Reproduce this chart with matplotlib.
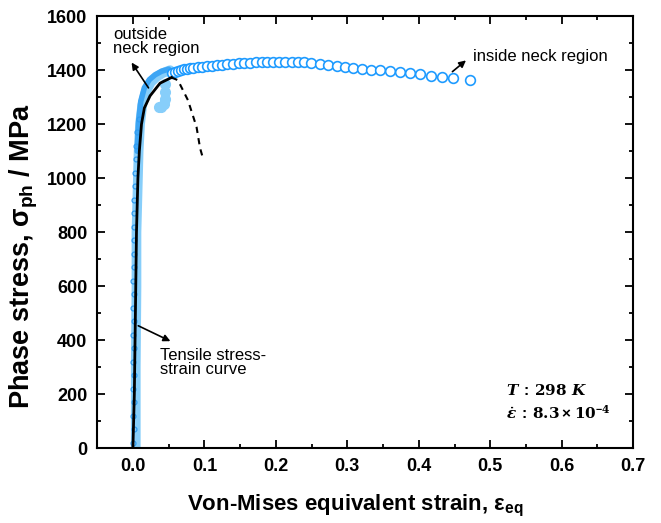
import matplotlib.pyplot as plt
from matplotlib.ticker import MultipleLocator

plt.rcParams["font.family"] = ["Liberation Sans", "DejaVu Sans"]
plt.rcParams["mathtext.fontset"] = "custom"
plt.rcParams["mathtext.rm"] = "Liberation Sans:bold"
plt.rcParams["mathtext.it"] = "DejaVu Serif:italic:bold"
plt.rcParams["mathtext.bf"] = "DejaVu Serif:bold"

# tensile stress-strain curve (solid part, then dashed after necking)
tens_x = [0.000, 0.002, 0.003, 0.004, 0.005, 0.007, 0.009, 0.012, 0.016, 0.024, 0.038, 0.054]
tens_y = [0, 200, 400, 600, 800, 1000, 1100, 1200, 1260, 1305, 1352, 1373]
neck_x = [0.054, 0.063, 0.077, 0.089, 0.094, 0.098]
neck_y = [1373, 1363, 1289, 1190, 1111, 1074]

# outside neck region (filled light blue band)
band_x = [0.004, 0.004, 0.005, 0.005, 0.006, 0.007, 0.008, 0.010, 0.013, 0.018, 0.025, 0.033, 0.042, 0.052]
band_y = [0, 300, 600, 800, 900, 1000, 1100, 1200, 1270, 1320, 1355, 1375, 1390, 1400]
knee_x = [0.006, 0.008, 0.011, 0.016, 0.023, 0.031, 0.040, 0.050]
knee_y = [1100, 1210, 1285, 1335, 1365, 1383, 1396, 1404]
blob_x = [0.045, 0.045, 0.045, 0.044, 0.040, 0.036]
blob_y = [1350, 1320, 1295, 1275, 1265, 1262]

# darker edge points along the elastic part
edge_x = [0.000, 0.001, 0.000, 0.001, 0.000, 0.001, 0.000, 0.001, 0.000, 0.001,
          0.000, 0.001, 0.000, 0.001, 0.001, 0.002, 0.001, 0.002, 0.002, 0.003,
          0.003, 0.004, 0.005, 0.006, 0.008]
edge_y = [20, 70, 120, 170, 220, 270, 320, 370, 420, 470,
          520, 570, 620, 670, 720, 770, 820, 870, 920, 970,
          1020, 1070, 1120, 1170, 1220]

# inside neck region (open circles)
in_x = [0.054, 0.059, 0.063, 0.067, 0.071, 0.076, 0.080, 0.084, 0.091, 0.097,
        0.103, 0.110, 0.117, 0.125, 0.132, 0.140, 0.148, 0.156, 0.164, 0.172,
        0.180, 0.188, 0.196, 0.204, 0.213, 0.222, 0.231, 0.239, 0.249, 0.262,
        0.273, 0.285, 0.297, 0.308, 0.321, 0.333, 0.346, 0.359, 0.373, 0.388,
        0.402, 0.417, 0.432, 0.448, 0.471]
in_y = [1390, 1395, 1398, 1400, 1403, 1405, 1407, 1409, 1411, 1413,
        1415, 1417, 1419, 1421, 1422, 1424, 1425, 1427, 1428, 1429,
        1430, 1431, 1431, 1432, 1432, 1431, 1430, 1429, 1427, 1424,
        1420, 1415, 1411, 1408, 1405, 1402, 1400, 1398, 1395, 1390,
        1385, 1380, 1375, 1372, 1364]

fig, ax = plt.subplots(figsize=(6.61, 5.23), dpi=100)
fig.subplots_adjust(left=0.147, right=0.958, bottom=0.143, top=0.969)

ax.plot(band_x, band_y, color="#87CEFA", lw=7, solid_capstyle="round", zorder=2)
ax.plot(knee_x, knee_y, color="#3DA5F4", lw=4, solid_capstyle="round", zorder=2)
ax.plot(blob_x, blob_y, "o", color="#87CEFA", ms=7, zorder=2)
ax.plot(edge_x, edge_y, "o", mfc="none", mec="#2E9BF0", ms=3.5, mew=0.9, zorder=2)
ax.plot(in_x, in_y, "o", mfc="white", mec="#1E9BFF", ms=7, mew=1.2, zorder=3)
ax.plot(tens_x, tens_y, color="black", lw=2, zorder=4)
ax.plot(neck_x, neck_y, color="black", lw=1.5, ls=(0, (3, 2.5)), zorder=4)

arrow = dict(arrowstyle="-|>", color="black", lw=1.2, mutation_scale=10)
ax.annotate("", xy=(-0.004, 1437), xytext=(0.024, 1326), arrowprops=arrow)
ax.text(-0.028, 1452, "outside\nneck region", fontsize=12, va="bottom", linespacing=0.9)
ax.annotate("", xy=(0.469, 1443), xytext=(0.444, 1388), arrowprops=arrow)
ax.text(0.4755, 1452, "inside neck region", fontsize=12, va="center")
ax.annotate("", xy=(0.056, 392), xytext=(0.004, 458), arrowprops=arrow)
ax.text(0.038, 318, "Tensile stress-\nstrain curve", fontsize=12, va="center", linespacing=0.9)

ax.text(0.522, 215, r"$T\,:\,\mathbf{298}\ K$", fontsize=11, va="center")
ax.text(0.522, 130, r"$\dot{\varepsilon}\,:\,\mathbf{8.3}\times\mathbf{10}^{-\mathbf{4}}$",
        fontsize=11, va="center")

ax.set_xlim(-0.05, 0.7)
ax.set_ylim(0, 1600)
ax.xaxis.set_major_locator(MultipleLocator(0.1))
ax.xaxis.set_minor_locator(MultipleLocator(0.05))
ax.yaxis.set_major_locator(MultipleLocator(200))
ax.yaxis.set_minor_locator(MultipleLocator(100))
ax.xaxis.set_major_formatter(plt.FormatStrFormatter("%.1f"))
ax.tick_params(which="both", direction="in", top=True, right=True, width=1.3)
ax.tick_params(which="major", length=6, labelsize=13, pad=7)
ax.tick_params(which="minor", length=3)
for lab in ax.get_xticklabels() + ax.get_yticklabels():
    lab.set_fontweight("bold")
for s in ax.spines.values():
    s.set_linewidth(1.5)

ax.set_xlabel(r"Von-Mises equivalent strain, ε$_{\mathrm{eq}}$", fontsize=16,
              fontweight="bold", labelpad=13)
ax.set_ylabel(r"Phase stress, σ$_{\mathrm{ph}}$ / MPa", fontsize=19.5,
              fontweight="bold", labelpad=5)
ax.xaxis.label.set_x(0.481)
ax.yaxis.label.set_y(0.444)

plt.savefig("out.png", dpi=100)
